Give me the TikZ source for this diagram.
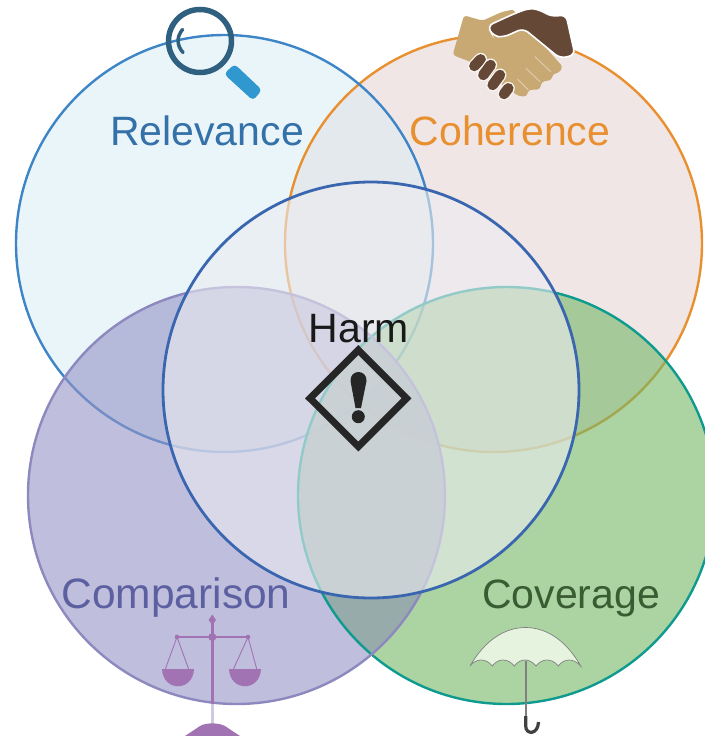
\documentclass[tikz,border=0pt]{standalone}
\usepackage{fontspec}
\setmainfont{Liberation Sans}
\definecolor{relevanceline}{HTML}{3D85C6}
\definecolor{relevancefill}{HTML}{EAF5FA}
\definecolor{coherenceline}{HTML}{E8902F}
\definecolor{coherencefill}{HTML}{E1CDCD}
\definecolor{comparisonline}{HTML}{8D88BE}
\definecolor{comparisonfill}{HTML}{9493C6}
\definecolor{comparisontext}{HTML}{5C5FA0}
\definecolor{coverageline}{HTML}{0E9A8E}
\definecolor{coveragefill}{HTML}{73B764}
\definecolor{harmline}{HTML}{3A66B0}
\definecolor{harmfill}{HTML}{EBEBF0}
\definecolor{relcoh}{HTML}{E4E9ED}
\definecolor{comcov}{HTML}{96ACA8}
\definecolor{lensdark}{HTML}{306080}
\definecolor{lensblue}{HTML}{3098CE}
\definecolor{scalepurple}{HTML}{A273B3}
\definecolor{canopy}{HTML}{E6F3DF}
\definecolor{handlight}{HTML}{C8A974}
\definecolor{handdark}{HTML}{664836}
\tikzset{
  venn/.style = {line width = 2.4pt},
  title/.style = {font = \fontsize{41}{41}\selectfont, inner sep = 0pt},
}
\begin{document}
\begin{tikzpicture}[x = 1pt, y = -1pt]
\useasboundingbox (0, 0) rectangle (704, 736);
\coordinate (relevancec) at (224.5, 243.5);
\coordinate (coherencec) at (493.5, 243.5);
\coordinate (comparisonc) at (236.5, 495.5);
\coordinate (coveragec) at (506.5, 495.5);
% fills and rings
\fill [relevancefill] (relevancec) circle [radius = 208.5];
\fill [coherencefill, fill opacity = 0.5] (coherencec) circle [radius = 208.5];
\begin{scope}
\clip (relevancec) circle [radius = 208.5];
\fill [relcoh] (coherencec) circle [radius = 208.5];
\end{scope}
\draw [venn, coherenceline] (coherencec) circle [radius = 208.5];
\draw [venn, relevanceline] (relevancec) circle [radius = 208.5];
\fill [coveragefill, fill opacity = 0.6] (coveragec) circle [radius = 208.5];
\fill [comparisonfill, fill opacity = 0.6] (comparisonc) circle [radius = 208.5];
\begin{scope}
\clip (comparisonc) circle [radius = 208.5];
\fill [comcov, fill opacity = 0.75] (coveragec) circle [radius = 208.5];
\end{scope}
\draw [venn, coverageline] (coveragec) circle [radius = 208.5];
\draw [venn, comparisonline] (comparisonc) circle [radius = 208.5];
\fill [harmfill, fill opacity = 0.6] (371, 390) circle [radius = 208];
\draw [harmline, line width = 2.8pt] (371, 390) circle [radius = 208];
% labels
\node [title, text = relevanceline!85!black] (relevance) at (207, 131) {Relevance};
\node [title, text = coherenceline] (coherence) at (510, 131) {Coherence};
\node [title, text = comparisontext, font = \fontsize{42.5}{42.5}\selectfont] (comparison) at (176, 598) {Comparison};
\node [title, text = coveragefill!50!black] (coverage) at (571, 598) {Coverage};
\node [title, text = black!90] (harm) at (359, 329) {Harm};
% magnifier
\draw [line width = 5.5pt, lensdark] (200, 41) circle [radius = 31.5];
\draw [line width = 3.5pt, line cap = round, lensdark] (182.5, 29.5) .. controls (176.5, 37) and (176.5, 45) .. (183, 52.5);
\fill [rounded corners = 4pt, lensblue] (224, 74) -- (234.5, 64) -- (262, 90) -- (253, 100.5) -- cycle;
% handshake
\begin{scope}[shift = {(440, 0)}, x = 0.3333pt, y = -0.3333pt]
\fill [handlight, rounded corners = 3pt] (72, 46) -- (128, 62) -- (185, 36) -- (222, 28) -- (235, 60) -- (270, 90) -- (368, 200) -- (358, 218) -- (338, 222) -- (335, 240) -- (305, 245) -- (300, 268) -- (265, 270) -- (260, 290) -- (235, 288) -- (90, 185) -- (38, 165) -- cycle;
\draw [white, line width = 1.6pt, fill = handdark, rounded corners = 6pt] (142, 78) -- (225, 40) -- (270, 24) -- (300, 30) -- (335, 50) -- (378, 44) -- (405, 165) -- (360, 175) -- (250, 85) -- (190, 112) -- (160, 108) -- cycle;
\draw [handlight!60!white, line width = 1pt, line cap = round] (285, 170) -- (332, 215) (258, 205) -- (300, 245) (233, 238) -- (265, 270);
\foreach \xa/\ya/\xb/\yb in {122/178/103/198, 152/195/130/225, 180/225/158/255, 205/265/192/282} {
  \draw [white!90!handlight, line width = 13pt, line cap = round] (\xa, \ya) -- (\xb, \yb);
  \draw [handdark, line width = 10.5pt, line cap = round] (\xa, \ya) -- (\xb, \yb);
}
\end{scope}
% scales
\draw [scalepurple!40!comparisonfill!45!white, line width = 3.5pt] (212.3, 700) -- (212.3, 726);
\draw [scalepurple, line width = 3.5pt] (212.3, 620) -- (212.3, 704);
\fill [scalepurple] (212.3, 614.5) -- (216, 620) -- (212.3, 625) -- (208.6, 620) -- cycle;
\fill [scalepurple] (212.3, 637) circle [radius = 4];
\draw [scalepurple, line width = 1.8pt] (177, 637) -- (248, 637);
\fill [scalepurple] (177, 637) circle [radius = 2.3];
\fill [scalepurple] (248, 637) circle [radius = 2.3];
\draw [scalepurple, line width = 0.9pt] (165, 670) -- (177, 637) -- (189, 670);
\draw [scalepurple, line width = 0.9pt] (233, 670) -- (248, 637) -- (257, 670);
\fill [scalepurple] (162, 669) .. controls (163, 692) and (193, 692) .. (194, 669) -- cycle;
\fill [scalepurple] (229, 669) .. controls (230, 692) and (260, 692) .. (261, 669) -- cycle;
\fill [scalepurple] (185, 736) -- (200, 726) .. controls (206, 722.5) and (218, 722.5) .. (225, 726) -- (240, 736) -- cycle;
% umbrella
\draw [gray, line width = 0.7pt, fill = canopy] (470, 666) .. controls (485, 640) and (505, 627.5) .. (525.5, 627.5) .. controls (546, 627.5) and (566, 640) .. (580.7, 666) .. controls (574, 658) and (564, 658) .. (558.3, 666) .. controls (552, 658) and (542, 658) .. (536, 666) .. controls (530, 658) and (520, 658) .. (514.3, 666) .. controls (508, 658) and (498, 658) .. (492.3, 666) .. controls (486, 658) and (476, 658) .. (470, 666) -- cycle;
\draw [gray, line width = 1.7pt] (525.7, 661) -- (525.7, 717);
\draw [black!75, line width = 3.2pt] (525.7, 716) -- (525.7, 726) .. controls (525.7, 735) and (538, 735) .. (538.5, 722);
% warning sign
\draw [black!85, line width = 7pt, miter limit = 4] (358.3, 350) -- (406.5, 398.3) -- (358.3, 446.5) -- (310, 398.3) -- cycle;
\fill [black!85] (350.5, 381) .. controls (350, 369) and (367, 369) .. (366.5, 381) -- (361, 408) -- (355.5, 408) -- cycle;
\fill [black!85] (358.3, 416.7) circle [radius = 6.5];
\end{tikzpicture}
\end{document}
